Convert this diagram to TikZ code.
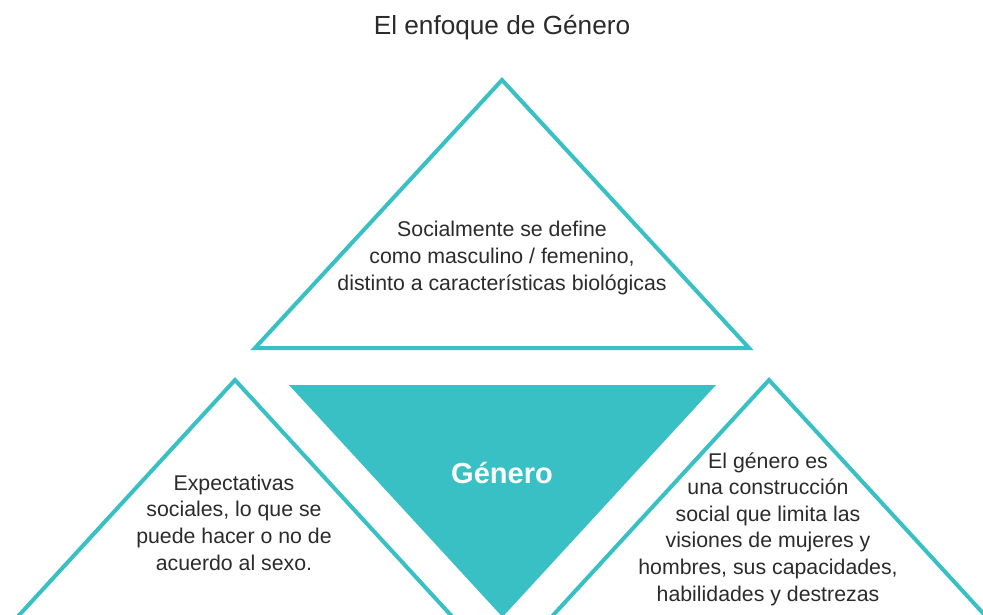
\documentclass[tikz,border=0pt]{standalone}
\usepackage{fontspec}
\setmainfont{Liberation Sans}
\definecolor{teal}{HTML}{38C0C4}
\definecolor{ink}{HTML}{2B2B2B}
\begin{document}
\begin{tikzpicture}[x=1pt,y=-1pt,
  tri/.style={draw=teal,line width=4pt,line join=miter,fill=white},
  body/.style={text=ink,align=center,font=\fontsize{21.3}{26.6}\selectfont,inner sep=0pt},
  titletext/.style={text=ink,font=\fontsize{26.2}{30}\selectfont,inner sep=0pt},
  hub/.style={text=white,font=\fontsize{29}{34}\selectfont\bfseries,inner sep=0pt}]
\useasboundingbox (0,0) rectangle (983,615);
\clip (0,0) rectangle (983,615);
\fill[white] (0,0) rectangle (983,615);
% top triangle
\coordinate (tA) at (502,80);
\coordinate (tL) at (255,348);
\coordinate (tR) at (749,348);
\draw[tri] (tA) -- (tL) -- (tR) -- cycle;
% left triangle
\coordinate (lA) at (235,380);
\coordinate (lL) at (-11,648);
\coordinate (lR) at (481,648);
\draw[tri] (lA) -- (lL) -- (lR) -- cycle;
% right triangle
\coordinate (rA) at (769,380);
\coordinate (rL) at (523,648);
\coordinate (rR) at (1015,648);
\draw[tri] (rA) -- (rL) -- (rR) -- cycle;
% centre triangle
\coordinate (cL) at (289,385);
\coordinate (cR) at (716,385);
\coordinate (cB) at (502.5,617);
\fill[teal] (cL) -- (cR) -- (cB) -- cycle;
% texts
\node[titletext] (title) at (502,28) {El enfoque de Género};
\node[body] (toptext) at (502,258) {Socialmente se define\\como masculino / femenino,\\distinto a características biológicas};
\node[hub] (hubtext) at (502,473) {Género};
\node[body] (lefttext) at (234,522.5) {Expectativas\\sociales, lo que se\\puede hacer o no de\\acuerdo al sexo.};
\node[body] (righttext) at (768,529) {El género es\\una construcción\\social que limita las\\visiones de mujeres y\\hombres, sus capacidades,\\habilidades y destrezas};
\end{tikzpicture}
\end{document}
